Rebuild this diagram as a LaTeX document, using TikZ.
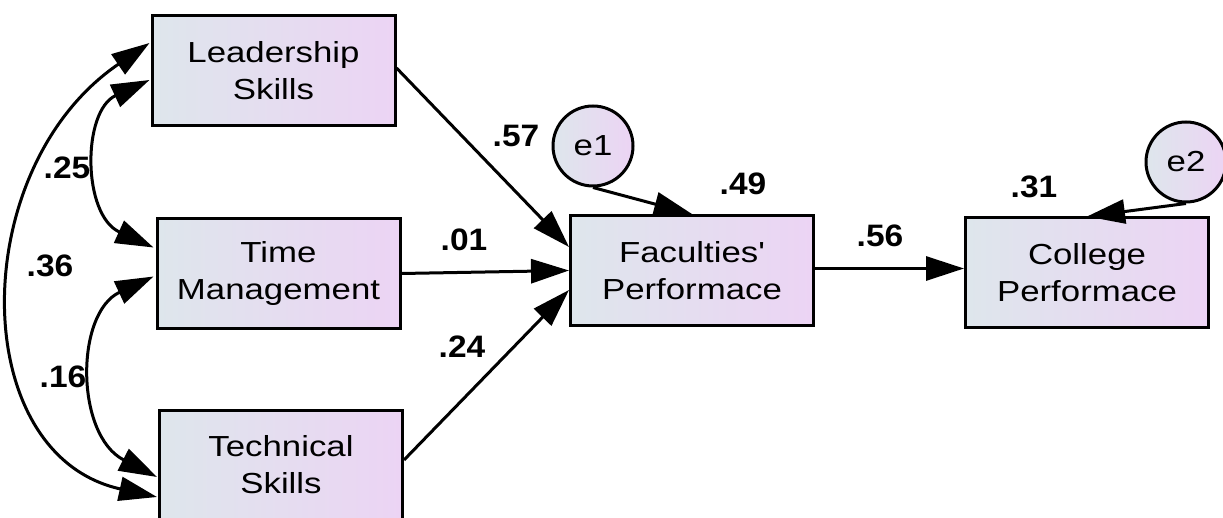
\documentclass[tikz,border=0pt]{standalone}
\usepackage{fontspec}
\setmainfont{Liberation Sans}
\newfontfamily\boxfont[FakeStretch=1.2]{Liberation Sans}
\newfontfamily\labfont[FakeStretch=1.08]{Liberation Sans}
\usetikzlibrary{arrows.meta,calc}
\definecolor{shL}{RGB}{222,230,236}
\definecolor{shR}{RGB}{236,212,244}
\begin{document}
\begin{tikzpicture}[x=1pt,y=-1pt,
  varbox/.style={draw, line width=3pt, minimum width=243pt, minimum height=110pt,
    left color=shL, right color=shR, align=center, inner sep=0pt,
    font=\boxfont\fontsize{29}{37}\selectfont},
  errc/.style={circle, draw, line width=3pt, minimum size=80pt, inner sep=0pt,
    left color=shL, right color=shR, font=\boxfont\fontsize{29}{37}\selectfont},
  lab/.style={inner sep=0pt, font=\labfont\bfseries\fontsize{31}{31}\selectfont},
  arr/.style={line width=3pt, -{Triangle[length=38pt,width=24pt]}},
  cov/.style={line width=3pt, {Triangle[length=38pt,width=24pt]}-{Triangle[length=38pt,width=24pt]}}
]
\useasboundingbox (0,0) rectangle (1223,518);
\fill[white] (0,0) rectangle (1223,518);

\node[varbox] (lead) at (273.5,71) {Leadership\\Skills};
\node[varbox] (time) at (278.5,273.5) {Time\\Management};
\node[varbox] (tech) at (281,465) {Technical\\Skills};
\node[varbox] (fac) at (692,270.5) {Faculties'\\Performace};
\node[varbox] (coll) at (1087,273) {College\\Performace};
\node[errc] (e1) at (593,146) {e1};
\node[errc] (e2) at (1186,162) {e2};

% regression paths
\draw[arr] ($(lead.east)+(0,-3)$) -- ($(fac.west)+(0,-23.5)$);
\draw[arr] ($(time.east)$) -- ($(fac.west)+(0,0)$);
\draw[arr] ($(tech.east)+(0,-5)$) -- ($(fac.west)+(0,19.5)$);
\draw[arr] ($(fac.east)+(0,-2)$) -- ($(coll.west |- fac.east)+(0,-2)$);
\draw[arr] (e1.south) -- (fac.north);
\draw[arr] (e2.south) -- (coll.north);

% covariances
\coordinate (lA) at ($(lead.west)+(-1,-28)$);
\coordinate (tB) at ($(tech.west)+(-1,32)$);
\draw[cov] (lA) .. controls (-34,168) and (-34,455) .. (tB);
\coordinate (lC) at ($(lead.west)+(-1,9)$);
\coordinate (mC) at ($(time.west)+(-2,-26)$);
\draw[cov] (lC) .. controls (82,111) and (82,215) .. (mC);
\coordinate (mD) at ($(time.west)+(-2,3)$);
\coordinate (tD) at ($(tech.west)+(-1,12)$);
\draw[cov] (mD) .. controls (75,313) and (75,435) .. (tD);

% labels
\node[lab] (l57) at (516,136) {.57};
\node[lab] (l49) at (743,184) {.49};
\node[lab] (l01) at (464,240) {.01};
\node[lab] (l24) at (462,347) {.24};
\node[lab] (l56) at (880,236) {.56};
\node[lab] (l31) at (1034,187) {.31};
\node[lab] (l25) at (67,168) {.25};
\node[lab] (l36) at (50,266) {.36};
\node[lab] (l16) at (63,377) {.16};
\end{tikzpicture}
\end{document}
